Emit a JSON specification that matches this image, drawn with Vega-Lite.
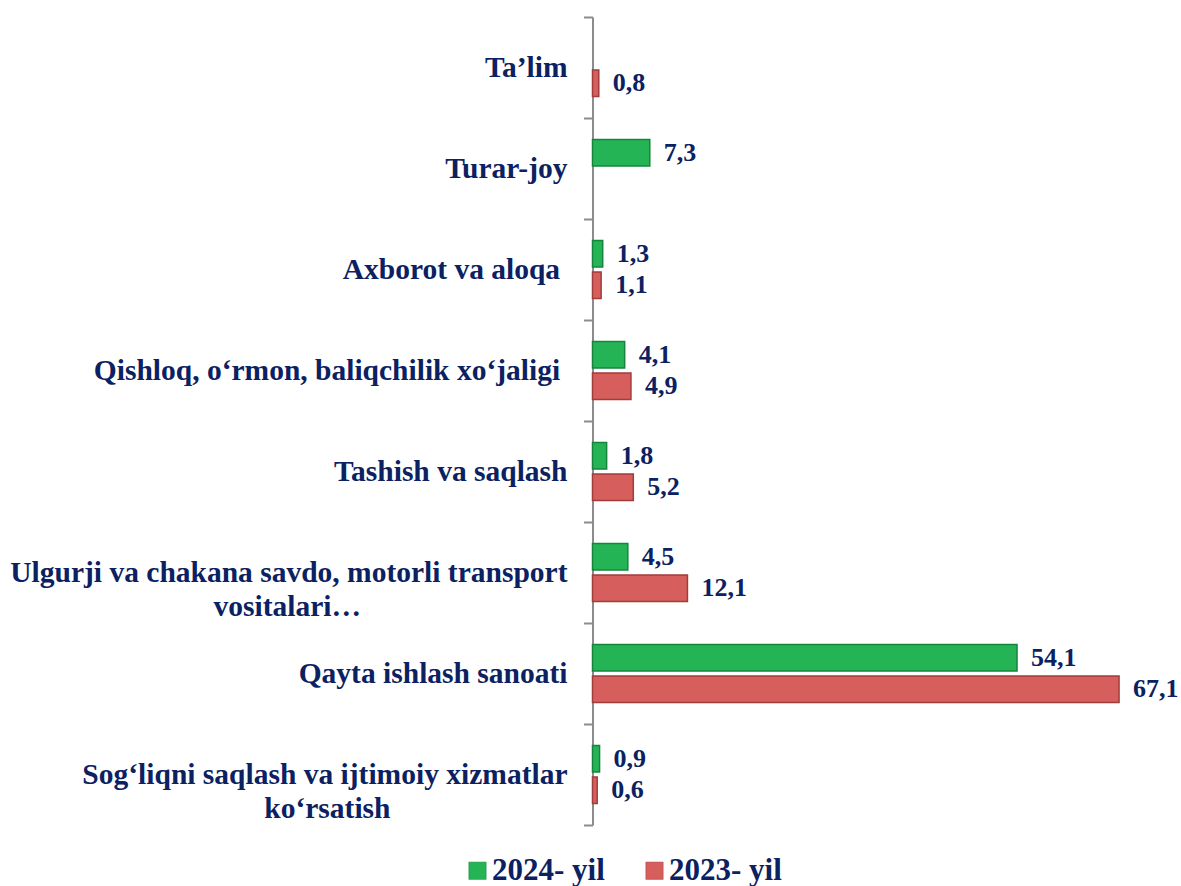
{
  "$schema": "https://vega.github.io/schema/vega-lite/v6.json",
  "width": 565,
  "height": 808,
  "autosize": "none",
  "padding": {"left": 592.5, "top": 17, "right": 23.5, "bottom": 61},
  "background": "white",
  "config": {
    "view": {"stroke": null},
    "font": "Liberation Serif",
    "locale": {"number": {"decimal": ",", "thousands": " ", "grouping": [3], "currency": ["", ""]}}
  },
  "data": {
    "values": [
      {"category": "Ta’lim", "year": "2023- yil", "value": 0.8},
      {"category": "Turar-joy", "year": "2024- yil", "value": 7.3},
      {"category": "Axborot va aloqa", "year": "2024- yil", "value": 1.3},
      {"category": "Axborot va aloqa", "year": "2023- yil", "value": 1.1},
      {"category": "Qishloq, o‘rmon, baliqchilik xo‘jaligi", "year": "2024- yil", "value": 4.1},
      {"category": "Qishloq, o‘rmon, baliqchilik xo‘jaligi", "year": "2023- yil", "value": 4.9},
      {"category": "Tashish va saqlash", "year": "2024- yil", "value": 1.8},
      {"category": "Tashish va saqlash", "year": "2023- yil", "value": 5.2},
      {"category": "Ulgurji va chakana savdo, motorli transport vositalari…", "year": "2024- yil", "value": 4.5},
      {"category": "Ulgurji va chakana savdo, motorli transport vositalari…", "year": "2023- yil", "value": 12.1},
      {"category": "Qayta ishlash  sanoati", "year": "2024- yil", "value": 54.1},
      {"category": "Qayta ishlash  sanoati", "year": "2023- yil", "value": 67.1},
      {"category": "Sog‘liqni saqlash va ijtimoiy xizmatlar ko‘rsatish", "year": "2024- yil", "value": 0.9},
      {"category": "Sog‘liqni saqlash va ijtimoiy xizmatlar ko‘rsatish", "year": "2023- yil", "value": 0.6}
    ]
  },
  "encoding": {
    "y": {
      "field": "category",
      "type": "nominal",
      "sort": [
        "Ta’lim",
        "Turar-joy",
        "Axborot va aloqa",
        "Qishloq, o‘rmon, baliqchilik xo‘jaligi",
        "Tashish va saqlash",
        "Ulgurji va chakana savdo, motorli transport vositalari…",
        "Qayta ishlash  sanoati",
        "Sog‘liqni saqlash va ijtimoiy xizmatlar ko‘rsatish"
      ],
      "scale": {"paddingInner": 0, "paddingOuter": 0},
      "axis": {
        "title": null,
        "domainColor": "#8c8c8c",
        "domainWidth": 2,
        "tickColor": "#8c8c8c",
        "tickWidth": 2,
        "tickSize": 9,
        "tickBand": "extent",
        "labelFont": "Liberation Serif",
        "labelFontSize": 29.5,
        "labelFontWeight": "bold",
        "labelColor": "#0b2161",
        "labelLimit": 800,
        "labelOverlap": false,
        "labelBound": false,
        "labelLineHeight": 34,
        "labelPadding": 16.5,
        "labelExpr": "indexof(datum.label, 'Ulgurji') == 0 ? ['Ulgurji va chakana savdo, motorli transport', pad('vositalari…', 39, '\u00a0') + '\u200b'] : indexof(datum.label, 'Sog') == 0 ? ['Sog‘liqni saqlash va ijtimoiy xizmatlar', pad('ko‘rsatish', 34, '\u00a0') + '\u200b'] : (indexof(datum.label, 'Axborot') == 0 || indexof(datum.label, 'Qishloq') == 0) ? datum.label + '\u00a0\u200b' : datum.label"
      }
    },
    "yOffset": {
      "field": "year",
      "type": "nominal",
      "sort": ["2024- yil", "2023- yil"],
      "scale": {"paddingInner": 0.16, "paddingOuter": 0.683}
    },
    "x": {
      "field": "value",
      "type": "quantitative",
      "scale": {"domain": [0, 72]},
      "axis": null
    }
  },
  "layer": [
    {
      "mark": {"type": "bar", "strokeWidth": 1.5},
      "encoding": {
        "color": {
          "field": "year",
          "type": "nominal",
          "sort": ["2024- yil", "2023- yil"],
          "scale": {"domain": ["2024- yil", "2023- yil"], "range": ["#25b455", "#d65f5d"]},
          "legend": {
            "title": null,
            "orient": "none",
            "direction": "horizontal",
            "legendX": -130.5,
            "legendY": 838,
            "symbolType": "square",
            "symbolSize": 300,
            "symbolStrokeColor": "#555555",
            "symbolStrokeWidth": 0.5,
            "labelFont": "Liberation Serif",
            "labelFontSize": 31,
            "labelFontWeight": "bold",
            "labelColor": "#0b2161",
            "labelOffset": -1,
            "columnPadding": 34,
            "labelLimit": 400,
            "padding": 0
          }
        },
        "stroke": {
          "field": "year",
          "type": "nominal",
          "scale": {"domain": ["2024- yil", "2023- yil"], "range": ["#16843c", "#a03d3b"]},
          "legend": null
        }
      }
    },
    {
      "mark": {
        "type": "text",
        "align": "left",
        "baseline": "middle",
        "dx": 14,
        "font": "Liberation Serif",
        "fontSize": 26,
        "fontWeight": "bold",
        "color": "#0b2161"
      },
      "encoding": {
        "text": {"field": "value", "type": "quantitative", "format": ".1f"}
      }
    }
  ]
}
